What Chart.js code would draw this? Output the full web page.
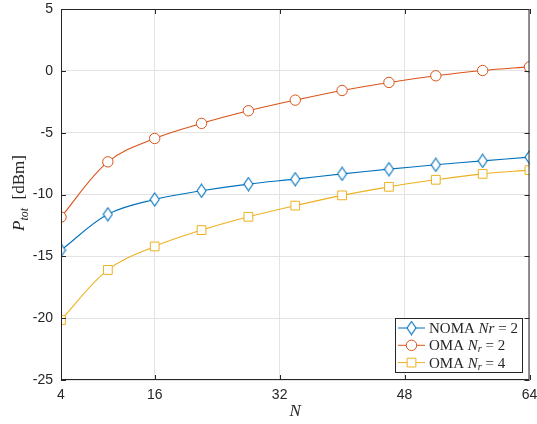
<!DOCTYPE html>
<html>
<head>
<meta charset="utf-8">
<script src="https://cdn.jsdelivr.net/npm/chart.js@4/dist/chart.umd.min.js"></script>
<style>
  html, body { margin: 0; padding: 0; background: #fff; }
  #wrap { width: 537px; height: 424px; }
</style>
</head>
<body>
<div id="wrap"><canvas id="chart" width="537" height="424"></canvas></div>
<script>
// values
const nValues = [4, 10, 16, 22, 28, 34, 40, 46, 52, 58, 64];
const nomaNr2 = [-14.5, -11.6, -10.4, -9.7, -9.16, -8.76, -8.33, -7.95, -7.6, -7.28, -6.98];
const omaNr2  = [-11.83, -7.36, -5.47, -4.25, -3.23, -2.37, -1.59, -0.94, -0.4, 0.03, 0.32];
const omaNr4  = [-20.15, -16.1, -14.2, -12.88, -11.8, -10.9, -10.07, -9.38, -8.81, -8.33, -8.03];
const xTicks = [4, 16, 32, 48, 64];
const yTicks = [-25, -20, -15, -10, -5, 0, 5];

const seriesInfo = [
    { label: ['NOMA ', {t: 'Nr', i: true}, ' = 2'], data: nomaNr2, color: '#0072BD', marker: 'diamond', radius: 6.5 },
    { label: ['OMA ', {t: 'N', i: true}, {t: 'r', i: true, sub: true}, ' = 2'], data: omaNr2, color: '#D95319', marker: 'circle', radius: 5.2 },
    { label: ['OMA ', {t: 'N', i: true}, {t: 'r', i: true, sub: true}, ' = 4'], data: omaNr4, color: '#EDB120', marker: 'rect', radius: 6.2 }
];

const axisColor = '#262626';
const sansFont = '"Liberation Sans", Arial, sans-serif';
const serifFont = '"Liberation Serif", "Times New Roman", serif';

// matlab style diamond: taller than wide
function diamondCanvas(color, r) {
    const c = document.createElement('canvas');
    const w = Math.round(r * 1.45) + 2, h = Math.round(r * 2) + 2;
    c.width = w; c.height = h;
    const g = c.getContext('2d');
    g.fillStyle = '#fff';
    g.strokeStyle = color;
    g.lineWidth = 1.1;
    g.beginPath();
    g.moveTo(w / 2, 1); g.lineTo(w - 1, h / 2); g.lineTo(w / 2, h - 1); g.lineTo(1, h / 2);
    g.closePath();
    g.fill(); g.stroke();
    return c;
}

function markerFor(s) {
    return s.marker === 'diamond' ? diamondCanvas(s.color, s.radius) : s.marker;
}

// draw a piece of mixed roman / italic / subscript text, return its width
function drawRich(ctx, parts, x, y, size, measureOnly) {
    let cx = x;
    parts.forEach(p => {
        let part = typeof p === 'string' ? {t: p} : p;
        let sz = part.sub ? size * 0.7 : size;
        ctx.font = (part.i ? 'italic ' : '') + sz + 'px ' + serifFont;
        let dy = part.sub ? size * 0.22 : 0;
        if (!measureOnly) ctx.fillText(part.t, cx, y + dy);
        cx += ctx.measureText(part.t).width;
    });
    return cx - x;
}

const framePlugin = {
    id: 'frame',
    afterDraw(chart) {
        const ctx = chart.ctx;
        const a = chart.chartArea;
        const xs = chart.scales.x, ys = chart.scales.y;
        ctx.save();
        ctx.strokeStyle = axisColor;
        ctx.lineWidth = 1;
        ctx.beginPath();
        ctx.rect(a.left + 0.5, a.top + 0.5, a.right - a.left - 1, a.bottom - a.top - 1);
        // inward ticks
        xTicks.forEach(v => {
            let px = Math.round(xs.getPixelForValue(v)) + 0.5;
            ctx.moveTo(px, a.bottom); ctx.lineTo(px, a.bottom - 5);
            ctx.moveTo(px, a.top); ctx.lineTo(px, a.top + 5);
        });
        yTicks.forEach(v => {
            let py = Math.round(ys.getPixelForValue(v)) + 0.5;
            ctx.moveTo(a.left, py); ctx.lineTo(a.left + 5, py);
            ctx.moveTo(a.right, py); ctx.lineTo(a.right - 5, py);
        });
        ctx.stroke();

        // axis titles
        ctx.fillStyle = axisColor;
        ctx.textBaseline = 'alphabetic';
        ctx.font = 'italic 17px ' + serifFont;
        ctx.textAlign = 'center';
        ctx.fillText('N', (a.left + a.right) / 2, 416);

        ctx.textAlign = 'left';
        const yTitle = [{t: 'P', i: true}, {t: 'tot', i: true, sub: true}, '  [dBm]'];
        ctx.translate(24, 193);
        ctx.rotate(-Math.PI / 2);
        let w = drawRich(ctx, yTitle, 0, 0, 17, true);
        drawRich(ctx, yTitle, -w / 2, 0, 17, false);
        ctx.setTransform(1, 0, 0, 1, 0, 0);

        // legend box
        const lx = 395, ly = 318, lw = 127, lh = 54;
        ctx.fillStyle = '#fff';
        ctx.fillRect(lx, ly, lw, lh);
        ctx.strokeStyle = axisColor;
        ctx.strokeRect(lx + 0.5, ly + 0.5, lw, lh);
        ctx.textBaseline = 'middle';
        seriesInfo.forEach((s, i) => {
            let cy = 328 + i * 17.3;
            ctx.strokeStyle = s.color;
            ctx.lineWidth = 1;
            ctx.beginPath();
            ctx.moveTo(398, cy); ctx.lineTo(425, cy);
            ctx.stroke();
            ctx.fillStyle = '#fff';
            Chart.helpers.drawPoint(ctx, {pointStyle: markerFor(s), radius: s.radius, borderWidth: 1}, 411.5, cy);
            ctx.fillStyle = axisColor;
            drawRich(ctx, s.label, 429, cy + 1, 15, false);
        });
        ctx.restore();
    }
};

window.onload = () => {
    const ctx = document.getElementById('chart').getContext('2d');
    new Chart(ctx, {
        type: 'line',
        data: {
            datasets: seriesInfo.map(s => ({
                label: s.label.map(p => typeof p === 'string' ? p : p.t).join(''),
                data: nValues.map((n, k) => ({x: n, y: s.data[k]})),
                borderColor: s.color,
                borderWidth: 1.1,
                backgroundColor: '#fff',
                pointStyle: markerFor(s),
                pointRadius: s.radius,
                pointBorderWidth: 1,
                pointBackgroundColor: '#fff',
                tension: 0.35,
                fill: false
            }))
        },
        options: {
            responsive: false,
            animation: false,
            layout: { padding: { left: 0, right: 7, top: 9, bottom: 0 } },
            plugins: { legend: { display: false }, tooltip: { enabled: false } },
            scales: {
                x: {
                    type: 'linear',
                    min: 4, max: 64,
                    afterFit: scale => { scale.height = 44; scale.paddingLeft = 0; scale.paddingRight = 0; },
                    afterBuildTicks: scale => { scale.ticks = xTicks.map(v => ({value: v})); },
                    grid: { color: '#e3e3e3', drawTicks: false },
                    border: { display: false },
                    ticks: { color: axisColor, font: { family: sansFont, size: 14 }, padding: 7, maxRotation: 0 }
                },
                y: {
                    min: -25, max: 5,
                    afterFit: scale => { scale.width = 61; scale.paddingTop = 0; scale.paddingBottom = 0; },
                    afterBuildTicks: scale => { scale.ticks = yTicks.map(v => ({value: v})); },
                    grid: { color: '#e3e3e3', drawTicks: false },
                    border: { display: false },
                    ticks: { color: axisColor, font: { family: sansFont, size: 14 }, padding: 8 }
                }
            }
        },
        plugins: [framePlugin]
    });
}
</script>
</body>
</html>
